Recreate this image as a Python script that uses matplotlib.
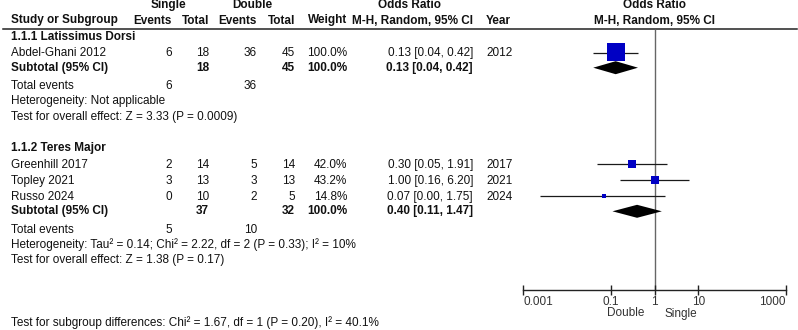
import matplotlib.pyplot as plt
from matplotlib.ticker import FixedLocator, FixedFormatter, NullLocator

plt.rcParams['font.family'] = ['Liberation Sans', 'DejaVu Sans']

# --- data ---
group_titles = ['1.1.1 Latissimus Dorsi', '1.1.2 Teres Major']
studies = [['Abdel-Ghani 2012'], ['Greenhill 2017', 'Topley 2021', 'Russo 2024']]
single_events = [[6], [2, 3, 0]]
single_total = [[18], [14, 13, 10]]
double_events = [[36], [5, 3, 2]]
double_total = [[45], [14, 13, 5]]
weights = [[100.0], [42.0, 43.2, 14.8]]
odds = [[0.13], [0.30, 1.00, 0.07]]
ci_low = [[0.04], [0.05, 0.16, 0.0025]]
ci_high = [[0.42], [1.91, 6.20, 1.75]]
years = [[2012], [2017, 2021, 2024]]
sub_or = [0.13, 0.40]
sub_low = [0.04, 0.11]
sub_high = [0.42, 1.47]
heterogeneity = ['Heterogeneity: Not applicable',
                 'Heterogeneity: Tau\u00b2 = 0.14; Chi\u00b2 = 2.22, df = 2 (P = 0.33); I\u00b2 = 10%']
overall = ['Test for overall effect: Z = 3.33 (P = 0.0009)',
           'Test for overall effect: Z = 1.38 (P = 0.17)']
subgroup_diff = 'Test for subgroup differences: Chi\u00b2 = 1.67, df = 1 (P = 0.20), I\u00b2 = 40.1%'
ticks = [0.001, 0.1, 1, 10, 1000]
tick_labels = ['0.001', '0.1', '1', '10', '1000']

# --- style / layout (pixels) ---
FS = 8.5
TXT = '#111111'
BLUE = '#0000C4'
group_start = [36.7, 148.3]
marker_px = [[17.5], [8.5, 8.5, 4.5]]
x_name, x_ev1, x_tot1, x_ev2, x_tot2, x_wt, x_ci, x_year = 11, 172, 209, 257, 295, 347, 473, 486

fig = plt.figure(figsize=(7.98, 3.30), dpi=100)
ax = fig.add_axes([0, 0, 1, 1])
ax.set_xlim(0, 798)
ax.set_ylim(330, 0)
ax.axis('off')

fx = fig.add_axes([523 / 798, 0, 263 / 798, 1])
fx.set_xscale('log')
fx.set_xlim(1e-3, 1e3)
fx.set_ylim(330, 0)
fx.patch.set_visible(False)


def txt(x, y, s, ha='left', bold=False, a=ax, color=TXT):
    a.text(x, y, s, ha=ha, va='center', fontsize=FS, color=color,
           fontweight='bold' if bold else 'normal')


# headers
txt(168, 5, 'Single', 'center', True)
txt(252, 5, 'Double', 'center', True)
txt(410, 5, 'Odds Ratio', 'center', True)
txt(654.5, 5, 'Odds Ratio', 'center', True)
hy = 20.5
txt(x_name, hy, 'Study or Subgroup', bold=True)
txt(x_ev1, hy, 'Events', 'right', True)
txt(x_tot1, hy, 'Total', 'right', True)
txt(x_ev2, hy, 'Events', 'right', True)
txt(x_tot2, hy, 'Total', 'right', True)
txt(x_wt, hy, 'Weight', 'right', True)
txt(412, hy, 'M-H, Random, 95% CI', 'center', True)
txt(x_year, hy, 'Year', bold=True)
txt(654.5, hy, 'M-H, Random, 95% CI', 'center', True)
ax.axhline(28.5, xmin=3 / 798, xmax=797 / 798, color='#222222', lw=1.1)

for g in range(len(group_titles)):
    y0 = group_start[g]
    txt(x_name, y0, group_titles[g], bold=True)
    ys = [y0 + 16.5 + 16 * i for i in range(len(studies[g]))]
    for i, y in enumerate(ys):
        txt(x_name, y, studies[g][i])
        txt(x_ev1, y, str(single_events[g][i]), 'right')
        txt(x_tot1, y, str(single_total[g][i]), 'right')
        txt(x_ev2, y, str(double_events[g][i]), 'right')
        txt(x_tot2, y, str(double_total[g][i]), 'right')
        txt(x_wt, y, f'{weights[g][i]:.1f}%', 'right')
        txt(x_ci, y, f'{odds[g][i]:.2f} [{ci_low[g][i]:.2f}, {ci_high[g][i]:.2f}]', 'right')
        txt(x_year, y, str(years[g][i]))
        fx.plot([ci_low[g][i], ci_high[g][i]], [y - 0.5, y - 0.5], color='#1a1a1a', lw=0.9,
                solid_capstyle='butt', zorder=2)
        fx.plot([odds[g][i]], [y - 0.8], marker='s', color=BLUE, mew=0,
                markersize=marker_px[g][i] * 0.72, zorder=3)
    ys_sub = ys[-1] + 14.5
    txt(x_name, ys_sub, 'Subtotal (95% CI)', bold=True)
    txt(x_tot1, ys_sub, str(sum(single_total[g])), 'right', True)
    txt(x_tot2, ys_sub, str(sum(double_total[g])), 'right', True)
    txt(x_wt, ys_sub, f'{sum(weights[g]):.1f}%', 'right', True)
    txt(x_ci, ys_sub, f'{sub_or[g]:.2f} [{sub_low[g]:.2f}, {sub_high[g]:.2f}]', 'right', True)
    fx.fill([sub_low[g], sub_or[g], sub_high[g], sub_or[g]],
            [ys_sub, ys_sub - 6.5, ys_sub, ys_sub + 6.5], color='black', lw=0, zorder=2)
    y_tot = ys_sub + 18.5
    txt(x_name, y_tot, 'Total events')
    txt(x_ev1, y_tot, str(sum(single_events[g])), 'right')
    txt(x_ev2, y_tot, str(sum(double_events[g])), 'right')
    txt(x_name, y_tot + 15, heterogeneity[g])
    txt(x_name, y_tot + 30.5, overall[g])

txt(x_name, 322.5, subgroup_diff)

# odds ratio axis
axis_y = 290
fx.vlines(1, 28.5, axis_y, color='#666666', lw=1.0, zorder=1)
for side in ['top', 'left', 'right']:
    fx.spines[side].set_visible(False)
fx.spines['bottom'].set_position(('data', axis_y))
fx.spines['bottom'].set_color('#222222')
fx.spines['bottom'].set_linewidth(1.0)
fx.set_yticks([])
fx.xaxis.set_major_locator(FixedLocator(ticks))
fx.xaxis.set_major_formatter(FixedFormatter(tick_labels))
fx.xaxis.set_minor_locator(NullLocator())
fx.tick_params(axis='x', direction='inout', length=7, width=1.0, color='#222222',
               labelsize=FS, labelcolor='#333333', pad=0.5)
tl = fx.get_xticklabels()
tl[0].set_ha('left')
tl[-1].set_ha('right')
fx.text(0.58, 313.5, 'Double', ha='right', va='center', fontsize=FS, color='#333333')
fx.text(1.65, 313.5, 'Single', ha='left', va='center', fontsize=FS, color='#333333')

fig.savefig('out.png', dpi=100)
